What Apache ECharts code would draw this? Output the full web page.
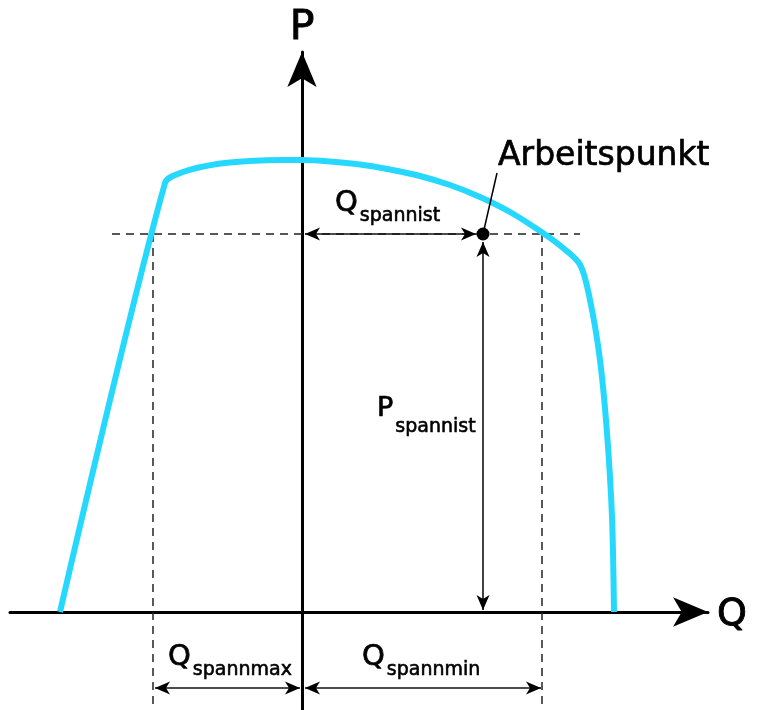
<!DOCTYPE html>
<html>
<head>
<meta charset="utf-8">
<title>Arbeitspunkt</title>
<script src="https://cdn.jsdelivr.net/npm/echarts@6/dist/echarts.min.js"></script>
<style>
  html, body { margin: 0; padding: 0; background: #fff; }
  #chart { width: 757px; height: 710px; }
</style>
</head>
<body>
<div id="chart"></div>
<script>
const curveQ = [-242, -137, -119, -85, -52, -19, 0, 28, 58, 88, 118, 148, 178, 208, 238, 258, 278, 288, 298, 305, 310, 312];
const curveP = [0, 429, 440, 448, 451, 452, 452, 450.5, 447.5, 442.5, 436, 427, 415, 400, 381, 366.5, 347.5, 312, 252, 179, 95, 0];

// Arbeitspunkt und Grenzen
const qIst = 181;
const pIst = 378;
const qSpannMax = -149;
const qSpannMin = 240;

// Achsenbereich
const qRange = [-292, 406];
const pRange = [-98, 560];

// Hilfslinien
const guideLeft = -190;
const guideRight = 278;
const dimLevel = -76;
const leaderEnd = [195, 439];

// Beschriftungen (linker Rand, Mitte)
const labelMain = ['Q', 'P', 'Q', 'Q', 'Arbeitspunkt', 'Q'];
const labelSub = ['spannist', 'spannist', 'spannmax', 'spannmin', '', ''];
const labelKind = ['dim', 'dimP', 'dim', 'dim', 'note', 'axis'];
const labelQ = [33, 75, -134, 60, 196, 415];
const labelP = [409, 203, -45, -45, 456, -3];

const FONT = '"DejaVu Sans", sans-serif';
const CYAN = '#27d8fe';
const INK = '#000';

// Schriftgroesse Haupttext / Index, Versatz des Index
const labelStyle = {
  dim: { main: 29, sub: 19, dy: 13, bw: 0.7 },
  dimP: { main: 27, sub: 19, dy: 18, bw: 0.7 },
  note: { main: 33, sub: 19, dy: 0, bw: 0.7 },
  axis: { main: 38, sub: 19, dy: 0, bw: 0.9 }
};

const measureCtx = document.createElement('canvas').getContext('2d');
function textWidth(t, size) {
  measureCtx.font = size + 'px ' + FONT;
  return measureCtx.measureText(t).width;
}

const chart = echarts.init(document.getElementById('chart'));

function renderArrow(params, api) {
  const a = api.coord([api.value(0), api.value(1)]);
  const b = api.coord([api.value(2), api.value(3)]);
  const g1 = api.value(4);
  const g2 = api.value(5);
  const dx = b[0] - a[0];
  const dy = b[1] - a[1];
  const len = Math.sqrt(dx * dx + dy * dy);
  const ux = dx / len;
  const uy = dy / len;
  const p1 = [a[0] + ux * g1, a[1] + uy * g1];
  const p2 = [b[0] - ux * g2, b[1] - uy * g2];
  function head(tip, hx, hy) {
    const L = 15, W = 6.5, N = 11;
    const nx = -hy, ny = hx;
    return {
      type: 'polygon',
      shape: {
        points: [
          tip,
          [tip[0] - hx * L + nx * W, tip[1] - hy * L + ny * W],
          [tip[0] - hx * N, tip[1] - hy * N],
          [tip[0] - hx * L - nx * W, tip[1] - hy * L - ny * W]
        ]
      },
      style: { fill: INK }
    };
  }
  return {
    type: 'group',
    children: [
      {
        type: 'line',
        shape: { x1: p1[0], y1: p1[1], x2: p2[0], y2: p2[1] },
        style: { stroke: '#111', lineWidth: 1.6 }
      },
      head(p1, -ux, -uy),
      head(p2, ux, uy)
    ]
  };
}

function renderLabel(params, api) {
  const i = params.dataIndex;
  const pt = api.coord([api.value(0), api.value(1)]);
  const st = labelStyle[labelKind[i]];
  const w = textWidth(labelMain[i], st.main);
  const children = [
    {
      type: 'text',
      x: pt[0], y: pt[1],
      style: {
        text: labelMain[i], fontSize: st.main, fontFamily: FONT,
        fill: INK, stroke: INK, lineWidth: st.bw, align: 'left', verticalAlign: 'middle'
      }
    }
  ];
  if (labelSub[i]) {
    children.push({
      type: 'text',
      x: pt[0] + w + 2, y: pt[1] + st.dy,
      style: {
        text: labelSub[i], fontSize: st.sub, fontFamily: FONT,
        fill: INK, stroke: INK, lineWidth: 0.6, align: 'left', verticalAlign: 'middle'
      }
    });
  }
  return { type: 'group', children: children };
}

const option = {
  animation: false,
  backgroundColor: '#fff',
  grid: { left: 10, right: 49, top: 52, bottom: 0 },
  xAxis: {
    type: 'value',
    min: qRange[0],
    max: qRange[1],
    axisLine: { onZero: true, lineStyle: { color: INK, width: 3 }, symbol: ['none', 'arrow'], symbolSize: [22, 35] },
    axisTick: { show: false },
    axisLabel: { show: false },
    splitLine: { show: false }
  },
  yAxis: {
    type: 'value',
    min: pRange[0],
    max: pRange[1],
    name: 'P',
    nameLocation: 'end',
    nameGap: 3,
    nameTextStyle: {
      fontSize: 41, fontFamily: FONT, color: INK,
      textBorderColor: INK, textBorderWidth: 0.9
    },
    axisLine: { onZero: true, lineStyle: { color: INK, width: 3 }, symbol: ['none', 'arrow'], symbolSize: [22, 35] },
    axisTick: { show: false },
    axisLabel: { show: false },
    splitLine: { show: false }
  },
  series: [
    {
      name: 'Hilfslinien',
      type: 'lines',
      coordinateSystem: 'cartesian2d',
      silent: true,
      lineStyle: { color: '#222', width: 1.5, type: [8, 6], opacity: 1 },
      data: [
        { coords: [[guideLeft, pIst], [guideRight, pIst]] },
        { coords: [[qSpannMax, pIst], [qSpannMax, pRange[0]]] },
        { coords: [[qSpannMin, pIst], [qSpannMin, pRange[0]]] }
      ]
    },
    {
      name: 'Kennlinie',
      type: 'line',
      data: curveQ.map((q, i) => [q, curveP[i]]),
      showSymbol: false,
      smooth: 0.3,
      lineStyle: { color: CYAN, width: 6 },
      z: 3
    },
    {
      name: 'Bemassung',
      type: 'custom',
      renderItem: renderArrow,
      data: [
        [0, pIst, qIst, pIst, 3, 7],
        [qIst, pIst, qIst, 0, 8, 2],
        [qSpannMax, dimLevel, 0, dimLevel, 2, 2],
        [0, dimLevel, qSpannMin, dimLevel, 3, 1]
      ],
      z: 4
    },
    {
      name: 'Zeiger',
      type: 'lines',
      coordinateSystem: 'cartesian2d',
      silent: true,
      lineStyle: { color: INK, width: 1.5, opacity: 1 },
      data: [{ coords: [[qIst, pIst], leaderEnd] }],
      z: 4
    },
    {
      name: 'Arbeitspunkt',
      type: 'scatter',
      data: [[qIst, pIst]],
      symbolSize: 13,
      itemStyle: { color: INK, opacity: 1 },
      z: 5
    },
    {
      name: 'Beschriftung',
      type: 'custom',
      renderItem: renderLabel,
      data: labelQ.map((q, i) => [q, labelP[i]]),
      z: 5
    }
  ]
};

chart.setOption(option);
</script>
</body>
</html>
